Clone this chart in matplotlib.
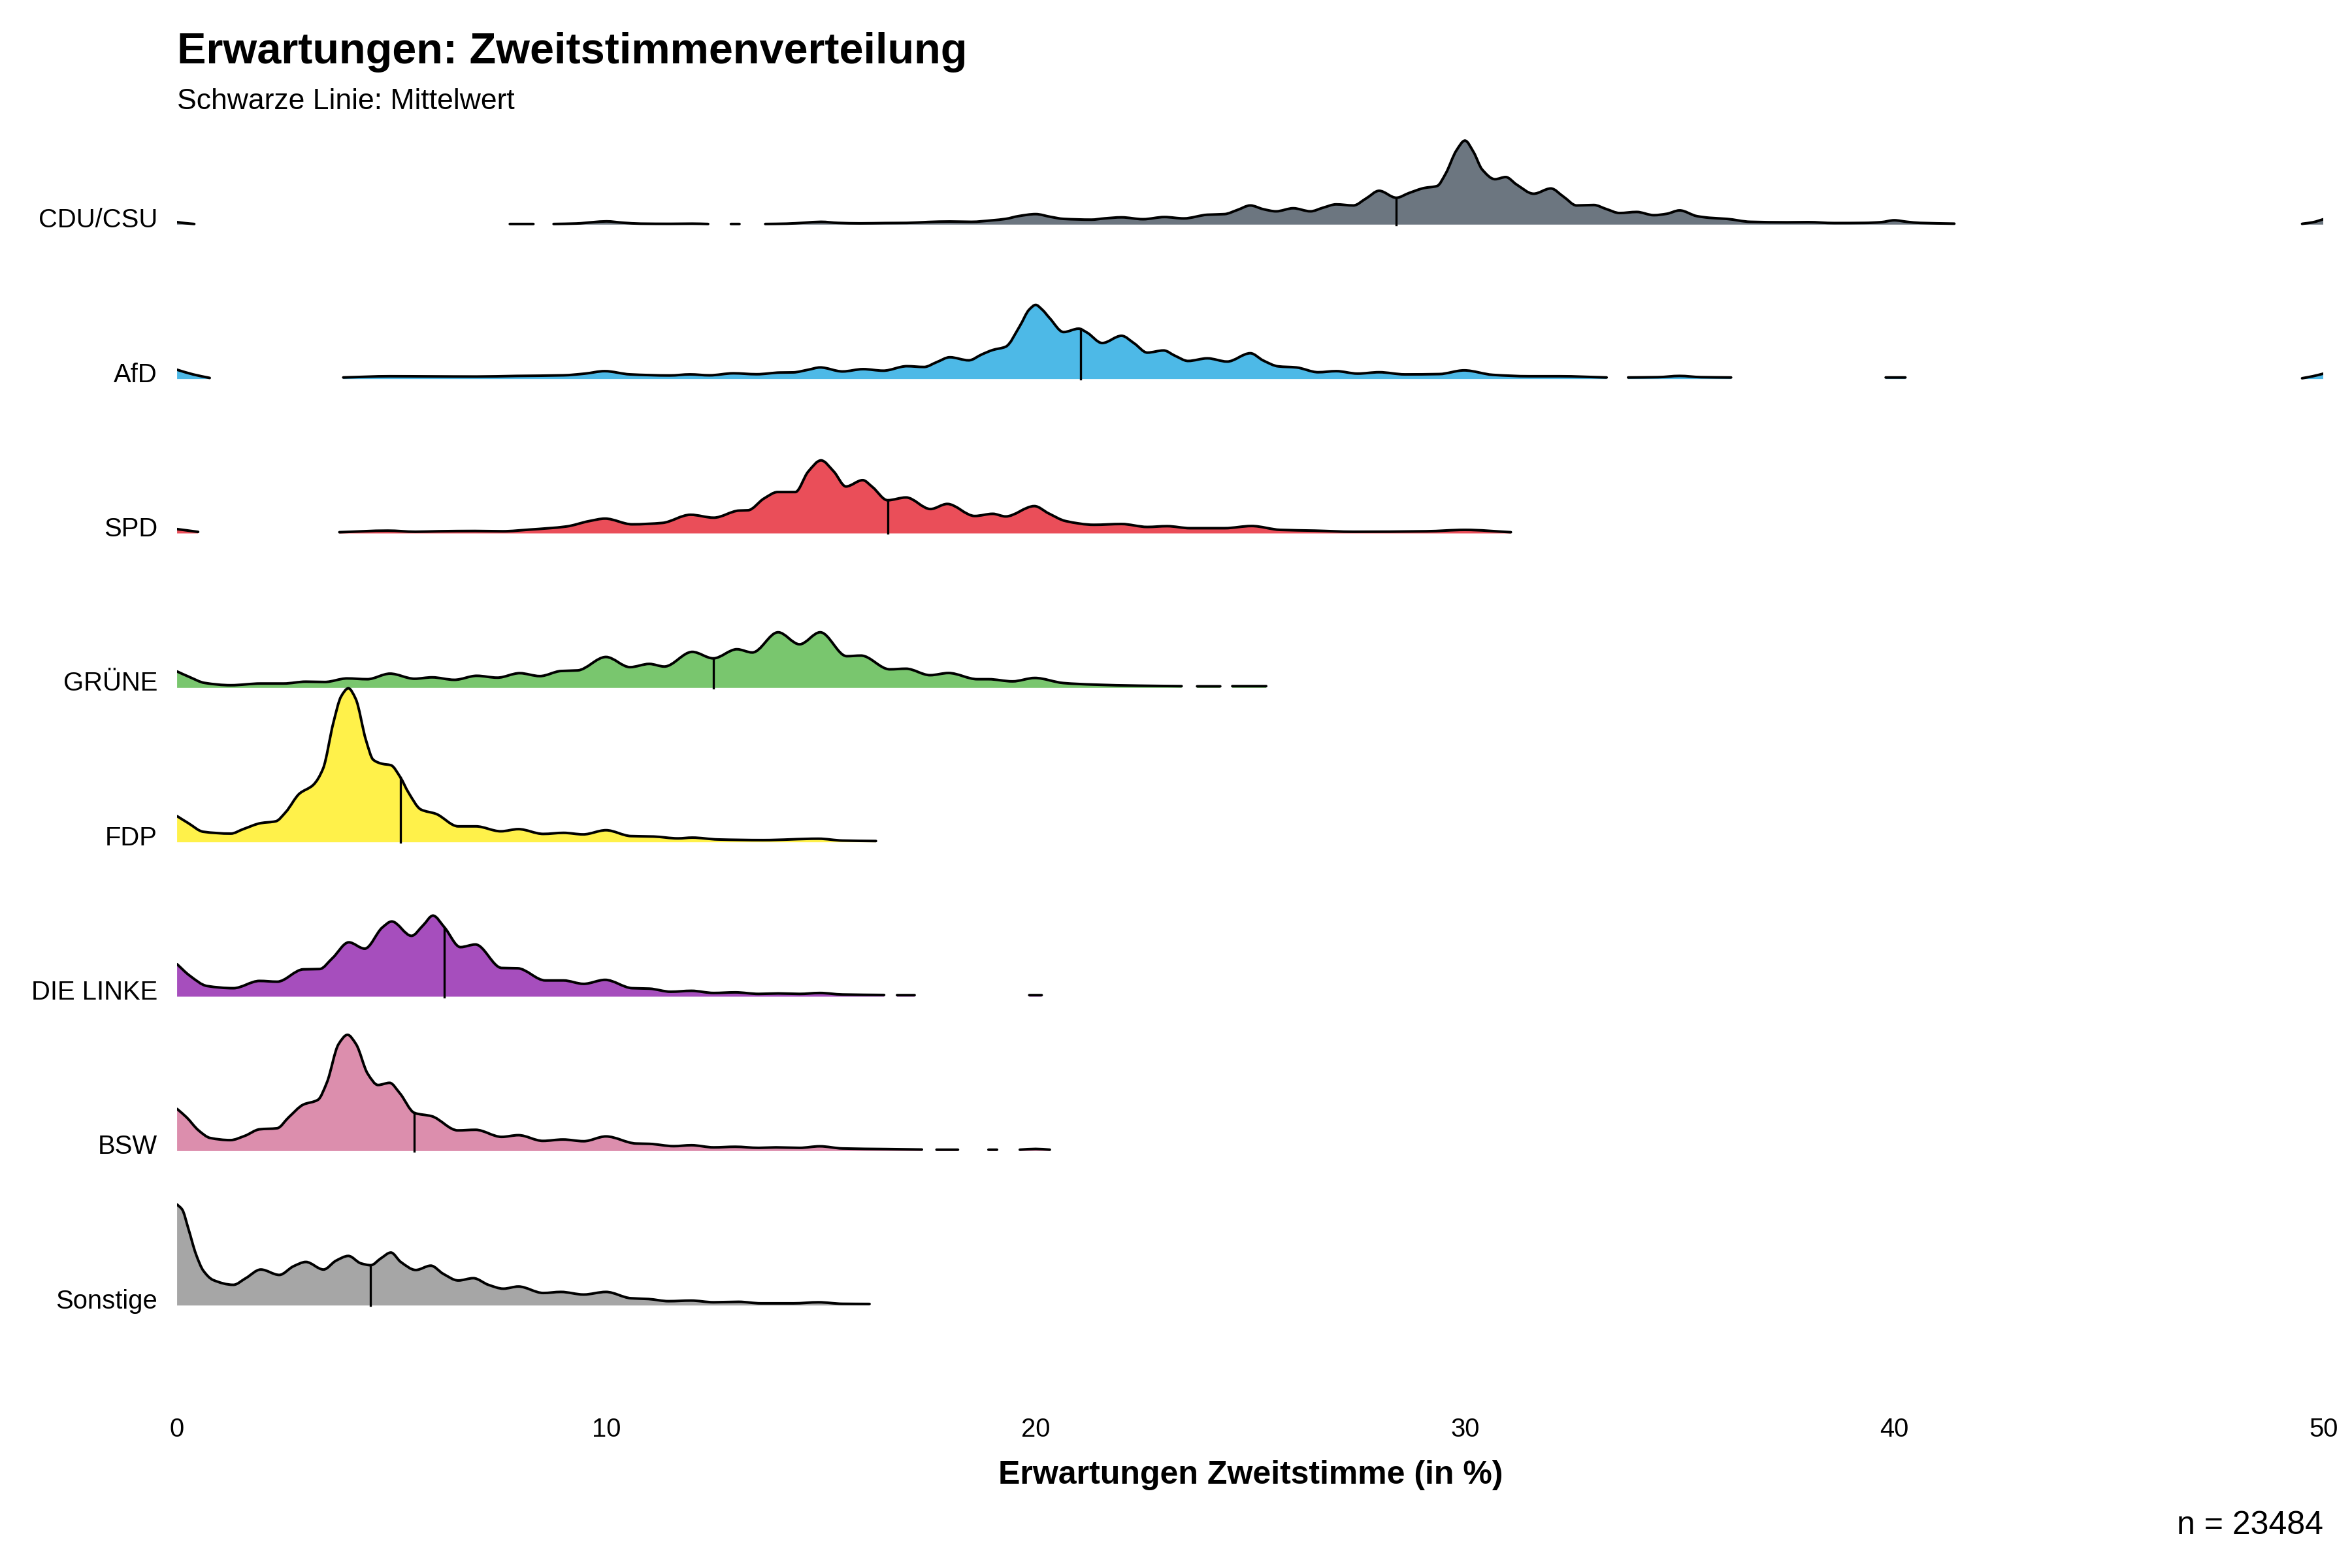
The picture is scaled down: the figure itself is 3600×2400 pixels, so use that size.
import numpy as np
import matplotlib.pyplot as plt
from matplotlib.path import Path
from matplotlib.patches import PathPatch
from matplotlib.transforms import ScaledTranslation

plt.rcParams['font.family'] = ['Liberation Sans', 'DejaVu Sans']

nan = float('nan')
GAP = (nan, nan)  # Lücke: Dichte unter Mindesthöhe, keine Linie

parties = ['CDU/CSU', 'AfD', 'SPD', 'GRÜNE', 'FDP', 'DIE LINKE', 'BSW', 'Sonstige']
colors = ['#6c7680', '#4db9e7', '#ea4e59', '#79c66e', '#fff14a', '#a64ebd', '#dc8ead', '#a6a6a6']
means = [28.4, 21.04, 16.55, 12.5, 5.2, 6.23, 5.53, 4.51]

# Dichtekurven (x in %, Höhe relativ zum Abstand der Ridges)
cdu = [(0, .016), (.2, .009), (.4, .004), GAP,
       (7.75, .004), (8.3, .004), GAP,
       (8.77, .004), (9.3, .007), (9.7, .016), (10.0, .021), (10.4, .012), (10.8, .006),
       (11.5, .005), (12.0, .006), (12.37, .004), GAP,
       (12.9, .004), (13.1, .004), GAP,
       (13.7, .004), (14.2, .006), (14.6, .012), (15.0, .018), (15.4, .011), (15.9, .008),
       (16.5, .010), (17.0, .011), (17.5, .017), (18.0, .020), (18.5, .018), (19.0, .028),
       (19.3, .037), (19.6, .055), (20.0, .068), (20.35, .050), (20.65, .037), (21.3, .032),
       (21.6, .040), (22.0, .047), (22.5, .035), (23.0, .049), (23.45, .040), (24.0, .064),
       (24.4, .068), (24.7, .095), (25.0, .124), (25.3, .100), (25.6, .086), (26.0, .106),
       (26.4, .086), (26.7, .110), (27.0, .131), (27.4, .124), (27.7, .170), (28.0, .219),
       (28.4, .174), (28.7, .205), (29.05, .237), (29.35, .250), (29.55, .330), (29.8, .480),
       (30.0, .544), (30.2, .470), (30.4, .357), (30.7, .294), (30.95, .308), (31.2, .260),
       (31.6, .200), (32.0, .234), (32.3, .180), (32.6, .124), (33.0, .127), (33.3, .100),
       (33.6, .075), (34.0, .082), (34.4, .061), (34.7, .070), (35.0, .092), (35.4, .055),
       (35.7, .044), (36.1, .037), (36.65, .018), (37.5, .015), (38.0, .016), (38.6, .010),
       (39.3, .011), (39.7, .016), (40.0, .028), (40.3, .018), (40.6, .011), (41.4, .006), GAP,
       (49.5, .005), (49.75, .015), (50, .035)]

afd = [(0, .060), (.37, .030), (.76, .007), GAP,
       (3.87, .010), (4.96, .018), (5.89, .017), (6.98, .016), (7.91, .020), (9.0, .024),
       (9.5, .035), (9.96, .051), (10.55, .030), (11.48, .023), (11.95, .030), (12.4, .024),
       (12.96, .037), (13.5, .031), (14.05, .042), (14.35, .043), (14.7, .060), (14.98, .075),
       (15.5, .049), (15.98, .064), (16.45, .054), (17.0, .083), (17.4, .078), (17.7, .110),
       (18.0, .141), (18.44, .121), (18.75, .160), (19.0, .188), (19.3, .209), (19.63, .343),
       (19.85, .450), (20.0, .480), (20.15, .450), (20.33, .393), (20.65, .304), (21.0, .326),
       (21.2, .300), (21.55, .233), (22.0, .280), (22.3, .230), (22.6, .171), (22.98, .185),
       (23.25, .150), (23.55, .117), (24.0, .134), (24.46, .113), (25.0, .167), (25.3, .120),
       (25.65, .082), (26.07, .075), (26.58, .044), (27.0, .051), (27.5, .035), (28.0, .044),
       (28.6, .030), (29.4, .032), (29.98, .056), (30.65, .027), (31.5, .018), (32.2, .018),
       (33.3, .010), GAP,
       (33.8, .010), (34.5, .012), (35.0, .020), (35.5, .012), (36.2, .010), GAP,
       (39.8, .010), (40.26, .010), GAP,
       (49.5, .005), (49.75, .018), (50, .035)]

spd = [(0, .028), (.49, .010), GAP,
       (3.78, .008), (4.91, .018), (5.55, .011), (6.09, .014), (6.94, .016), (7.58, .014),
       (8.22, .025), (9.07, .045), (9.6, .080), (9.97, .096), (10.6, .059), (11.3, .068),
       (11.96, .121), (12.5, .102), (13.09, .148), (13.3, .150), (13.67, .226), (13.99, .268),
       (14.4, .268), (14.7, .400), (15.0, .473), (15.3, .400), (15.58, .304), (15.97, .345),
       (16.2, .300), (16.55, .215), (16.98, .233), (17.55, .158), (17.94, .191), (18.58, .113),
       (19.0, .127), (19.3, .110), (19.97, .177), (20.3, .130), (20.7, .080), (21.36, .056),
       (22.0, .061), (22.6, .042), (23.06, .047), (23.6, .034), (24.4, .034), (25.03, .048),
       (25.7, .023), (26.5, .018), (27.4, .011), (29.1, .014), (30.0, .023), (31.07, .008)]

gruene = [(0, .106), (.29, .070), (.64, .032), (1.25, .017), (1.95, .028), (2.48, .028),
          (3.0, .040), (3.44, .038), (3.96, .061), (4.43, .056), (4.96, .092), (5.53, .059),
          (5.94, .068), (6.46, .052), (6.98, .078), (7.46, .066), (7.98, .095), (8.45, .076),
          (8.94, .109), (9.33, .113), (9.99, .200), (10.55, .134), (11.0, .155), (11.35, .138),
          (12.0, .233), (12.49, .191), (13.04, .250), (13.4, .229), (14.0, .360), (14.5, .282),
          (14.98, .360), (15.6, .205), (15.93, .209), (16.6, .120), (16.98, .124), (17.54, .082),
          (17.97, .096), (18.64, .056), (18.9, .056), (19.46, .042), (19.98, .064), (20.65, .031),
          (21.35, .021), (22.4, .014), (23.4, .011), GAP,
          (23.76, .010), (24.3, .010), GAP,
          (24.58, .011), (25.37, .011)]

fdp = [(0, .169), (.26, .124), (.61, .068), (1.25, .056), (1.54, .085), (1.95, .124),
       (2.3, .136), (2.53, .195), (2.85, .315), (3.17, .371), (3.4, .477), (3.64, .774),
       (3.82, .944), (3.99, .997), (4.16, .929), (4.4, .661), (4.57, .534), (4.78, .508),
       (4.98, .499), (5.2, .421), (5.39, .322), (5.68, .212), (6.03, .184), (6.55, .103),
       (6.96, .103), (7.54, .071), (7.95, .085), (8.53, .054), (9.0, .061), (9.46, .051),
       (9.99, .078), (10.57, .040), (11.1, .037), (11.67, .025), (12.0, .030), (12.6, .018),
       (13.65, .014), (14.94, .023), (15.5, .011), (16.28, .008)]

linke = [(0, .210), (.29, .137), (.7, .069), (1.31, .055), (1.92, .102), (2.33, .097),
         (2.94, .177), (3.32, .179), (3.62, .250), (4.0, .352), (4.37, .311), (4.78, .448),
         (5.0, .487), (5.46, .394), (5.73, .462), (5.96, .525), (6.23, .448), (6.6, .321),
         (6.95, .338), (7.56, .186), (7.93, .184), (8.58, .105), (9.0, .105), (9.47, .083),
         (9.97, .109), (10.6, .055), (11.0, .052), (11.5, .032), (11.98, .038), (12.5, .024),
         (13.0, .028), (13.55, .018), (14.0, .021), (14.5, .018), (14.97, .024), (15.5, .014),
         (16.47, .011), GAP,
         (16.77, .010), (17.18, .010), GAP,
         (19.85, .010), (20.14, .010)]

bsw = [(0, .273), (.22, .219), (.5, .134), (.77, .085), (1.24, .071), (1.58, .099),
       (1.92, .141), (2.33, .148), (2.6, .219), (2.94, .301), (3.28, .332), (3.49, .445),
       (3.76, .692), (3.97, .753), (4.17, .692), (4.44, .501), (4.68, .428), (4.95, .442),
       (5.19, .374), (5.53, .247), (5.93, .226), (6.54, .134), (6.95, .138), (7.56, .092),
       (7.95, .103), (8.52, .066), (8.99, .075), (9.47, .064), (9.99, .095), (10.69, .049),
       (11.0, .047), (11.57, .032), (11.98, .038), (12.5, .024), (13.0, .028), (13.55, .021),
       (13.95, .024), (14.5, .021), (14.97, .031), (15.5, .017), (16.53, .013), (17.35, .010), GAP,
       (17.69, .009), (18.19, .009), GAP,
       (18.9, .009), (19.1, .009), GAP,
       (19.63, .009), (20.0, .014), (20.33, .009)]

sonstige = [(0, .654), (.12, .621), (.26, .500), (.44, .332), (.61, .226), (.84, .165),
            (1.31, .134), (1.6, .177), (1.95, .233), (2.38, .198), (2.71, .254), (3.0, .282),
            (3.41, .233), (3.7, .290), (3.99, .321), (4.28, .273), (4.51, .261), (4.75, .306),
            (4.98, .343), (5.21, .282), (5.56, .230), (5.91, .258), (6.2, .205), (6.55, .162),
            (6.9, .177), (7.25, .134), (7.6, .109), (7.95, .123), (8.53, .081), (8.94, .088),
            (9.47, .071), (9.99, .088), (10.57, .047), (10.98, .042), (11.45, .028), (11.97, .032),
            (12.5, .021), (13.08, .024), (13.6, .014), (14.36, .014), (14.94, .021), (15.5, .011),
            (16.13, .010)]

curves = [cdu, afd, spd, gruene, fdp, linke, bsw, sonstige]


def slopes(x, y):
    # monotone Tangenten (Fritsch-Carlson), damit die Linie rund durch die Punkte läuft
    h = np.diff(x)
    d = np.diff(y) / h
    m = np.zeros_like(y)
    if len(x) == 2:
        m[:] = d[0]
        return m
    m[0], m[-1] = d[0], d[-1]
    for k in range(1, len(x) - 1):
        if d[k - 1] * d[k] > 0:
            w1 = 2 * h[k] + h[k - 1]
            w2 = h[k] + 2 * h[k - 1]
            m[k] = (w1 + w2) / (w1 / d[k - 1] + w2 / d[k])
    return m


def bezier(x, y, m):
    verts = [(x[0], y[0])]
    for k in range(len(x) - 1):
        h = x[k + 1] - x[k]
        verts += [(x[k] + h / 3, y[k] + m[k] * h / 3),
                  (x[k + 1] - h / 3, y[k + 1] - m[k + 1] * h / 3),
                  (x[k + 1], y[k + 1])]
    return verts


def segments(pts):
    arr = np.array(pts, dtype=float)
    cut = np.where(np.isnan(arr[:, 0]))[0]
    parts = [s[~np.isnan(s[:, 0])] for s in np.split(arr, cut)]
    return [p for p in parts if len(p) > 1]


fig = plt.figure(figsize=(12, 8), dpi=300)
ax = fig.add_axes([0.0753, 0.1033, 0.9126, 0.8154])

n = len(parties)
for i, (pts, col, mean) in enumerate(zip(curves, colors, means)):
    base = n - i
    for seg in segments(pts):
        x, y = seg[:, 0], base + seg[:, 1]
        m = slopes(x, y)
        top = bezier(x, y, m)
        ncurve = len(top) - 1
        # Fläche (untere Ridges liegen über den oberen)
        fverts = [(x[0], base)] + top + [(x[-1], base), (x[0], base)]
        fcodes = [Path.MOVETO, Path.LINETO] + [Path.CURVE4] * ncurve + \
                 [Path.LINETO, Path.CLOSEPOLY]
        ax.add_patch(PathPatch(Path(fverts, fcodes), facecolor=col, edgecolor='none',
                               zorder=2 * i + 1))
        lcodes = [Path.MOVETO] + [Path.CURVE4] * ncurve
        ax.add_patch(PathPatch(Path(top, lcodes), facecolor='none', edgecolor='black',
                               lw=0.95, capstyle='round', joinstyle='round',
                               zorder=2 * i + 2))
        # Mittelwertlinie bis zur Kurve
        if x[0] <= mean <= x[-1]:
            k = int(np.clip(np.searchsorted(x, mean) - 1, 0, len(x) - 2))
            h = x[k + 1] - x[k]
            t = (mean - x[k]) / h
            h00, h10 = 2 * t**3 - 3 * t**2 + 1, t**3 - 2 * t**2 + t
            h01, h11 = -2 * t**3 + 3 * t**2, t**3 - t**2
            ym = h00 * y[k] + h10 * h * m[k] + h01 * y[k + 1] + h11 * h * m[k + 1]
            ax.plot([mean, mean], [base, ym], color='black', lw=0.8, zorder=2 * i + 2)

ax.set_xlim(0, 50)
ax.set_ylim(0.349, 8.629)
ax.set_xticks([0, 10, 20, 30, 40, 50])
ax.set_yticks(range(n, 0, -1))
ax.set_yticklabels(parties)
ax.tick_params(axis='x', length=0, labelsize=9.6, pad=4)
ax.tick_params(axis='y', length=0, labelsize=9.6, pad=7.2)
shift = ScaledTranslation(0, 2.5 / 72, fig.dpi_scale_trans)
for lab in ax.get_yticklabels():
    lab.set_transform(lab.get_transform() + shift)
for s in ax.spines.values():
    s.set_visible(False)

fig.text(0.0753, 0.9596, 'Erwartungen: Zweitstimmenverteilung', fontsize=16,
         fontweight='bold', va='baseline')
fig.text(0.0753, 0.9304, 'Schwarze Linie: Mittelwert', fontsize=10.7, va='baseline')
fig.text(0.5316, 0.05375, 'Erwartungen Zweitstimme (in %)', fontsize=12,
         fontweight='bold', ha='center', va='baseline')
fig.text(0.9879, 0.02167, 'n = 23484', fontsize=12, ha='right', va='baseline')

fig.savefig('out.png', dpi=300, facecolor='white')
